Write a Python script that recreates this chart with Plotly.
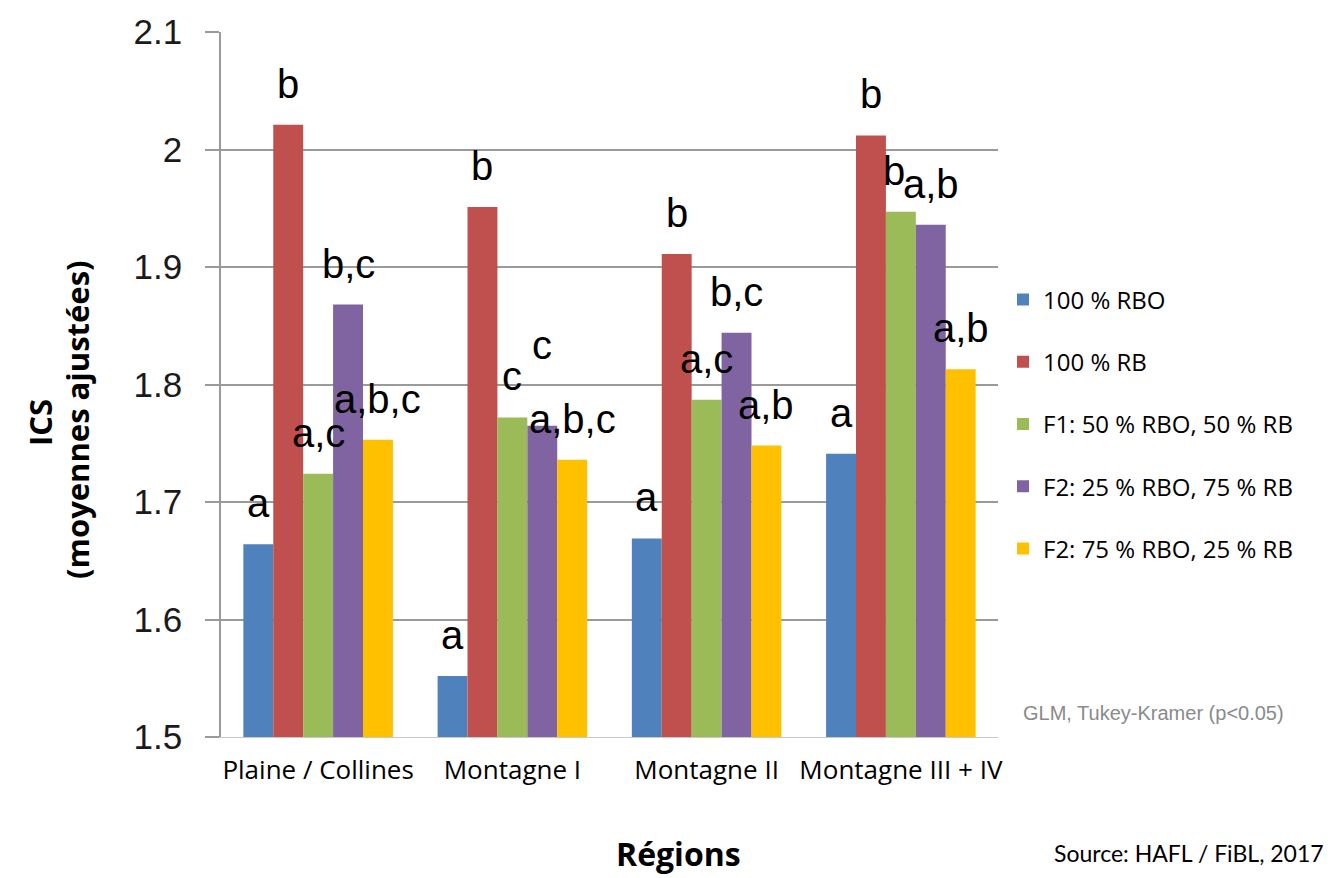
import plotly.graph_objects as go

# Adjusted ICS means per region and feeding regime
regions = ["Plaine / Collines", "Montagne I", "Montagne II", "Montagne III + IV"]
series_names = [
    "100 % RBO",
    "100 % RB",
    "F1: 50 % RBO, 50 % RB",
    "F2: 25 % RBO, 75 % RB",
    "F2: 75 % RBO, 25 % RB",
]
rbo_100 = [1.664, 1.552, 1.669, 1.741]
rb_100 = [2.021, 1.951, 1.911, 2.012]
f1_50_50 = [1.724, 1.772, 1.787, 1.947]
f2_25_75 = [1.868, 1.765, 1.844, 1.936]
f2_75_25 = [1.753, 1.736, 1.748, 1.813]
series_values = [rbo_100, rb_100, f1_50_50, f2_25_75, f2_75_25]

# Tukey-Kramer group letters, same order as the series
letters_rbo_100 = ["a", "a", "a", "a"]
letters_rb_100 = ["b", "b", "b", "b"]
letters_f1_50_50 = ["a,c", "c", "a,c", "b"]
letters_f2_25_75 = ["b,c", "c", "b,c", "a,b"]
letters_f2_75_25 = ["a,b,c", "a,b,c", "a,b", "a,b"]
series_letters = [letters_rbo_100, letters_rb_100, letters_f1_50_50,
                  letters_f2_25_75, letters_f2_75_25]

y_ticks = [1.5, 1.6, 1.7, 1.8, 1.9, 2.0, 2.1]
y_tick_text = ["1.5", "1.6", "1.7", "1.8", "1.9", "2", "2.1"]

colors = ["#4F81BD", "#C0504D", "#9BBB59", "#8064A2", "#FFC000"]

# layout geometry (pixels)
W, H = 1331, 878
ML, MR, MT, MB = 221, 333, 32, 141
plot_w = W - ML - MR
bargap = 0.23
bar_px = plot_w / len(regions) * (1 - bargap) / len(series_names)

fig = go.Figure()
for name, vals, col in zip(series_names, series_values, colors):
    fig.add_trace(go.Bar(
        x=regions, y=vals, name=name, marker=dict(color=col, line=dict(width=0)),
        legendgroup=name,
    ))

# letter annotations above each bar
arial = "Liberation Sans, Arial, sans-serif"
sans = "Open Sans, Lato, sans-serif"
extra_lift = {(3, 1): 40}   # (series, region) -> extra vertical offset
extra_x = {(2, 3): -7}
for si, (vals, lets) in enumerate(zip(series_values, series_letters)):
    for ri, (v, t) in enumerate(zip(vals, lets)):
        fig.add_annotation(
            x=regions[ri], y=v, xref="x", yref="y", text=t, showarrow=False,
            xanchor="center", yanchor="bottom",
            xshift=(si - 2) * bar_px + extra_x.get((si, ri), 0),
            yshift=17 + extra_lift.get((si, ri), 0),
            font=dict(family=arial, size=40, color="#000000"),
        )

def px_x(p):
    return (p - ML) / plot_w

def px_y(p):
    return (H - MB - p) / (H - MT - MB)

# y-axis title, two lines
title_font = dict(family=sans, size=31, color="#000000", weight="bold")
fig.add_annotation(
    x=px_x(40), y=px_y(423), xref="paper", yref="paper", showarrow=False,
    text="ICS", textangle=-90, font=title_font,
    xanchor="center", yanchor="middle",
)
fig.add_annotation(
    x=px_x(77), y=px_y(420), xref="paper", yref="paper", showarrow=False,
    text="(moyennes ajustées)", textangle=-90, font=title_font,
    xanchor="center", yanchor="middle",
)
fig.add_annotation(
    x=px_x(678), y=px_y(854), xref="paper", yref="paper", showarrow=False,
    text="<b>Régions</b>",
    font=dict(family=sans, size=32, color="#000000"),
    xanchor="center", yanchor="middle",
)
fig.add_annotation(
    x=px_x(1021), y=px_y(713), xref="paper", yref="paper", showarrow=False,
    text="GLM, Tukey-Kramer (p<0.05)",
    font=dict(family=arial, size=20, color="#8a8a8a"),
    xanchor="left", yanchor="middle",
)
fig.add_annotation(
    x=px_x(1052), y=px_y(853), xref="paper", yref="paper", showarrow=False,
    text="Source: HAFL / FiBL, 2017",
    font=dict(family="Lato, Open Sans, sans-serif", size=23, color="#000000"),
    xanchor="left", yanchor="middle",
)

fig.update_layout(
    width=W, height=H,
    margin=dict(l=ML, r=MR, t=MT, b=MB, pad=0),
    paper_bgcolor="white", plot_bgcolor="white",
    barmode="group", bargap=bargap, bargroupgap=0,
    showlegend=True,
    legend=dict(
        x=px_x(1003), y=px_y(424), xanchor="left", yanchor="middle",
        font=dict(family=sans, size=24, color="#000000"),
        tracegroupgap=28, itemclick=False, bgcolor="rgba(0,0,0,0)",
    ),
    xaxis=dict(
        showgrid=False, showline=True, linecolor="#c8c8c8", linewidth=1,
        ticks="", tickfont=dict(family=sans, size=26, color="#000000"),
        ticklabelstandoff=10,
    ),
    yaxis=dict(
        range=[1.5, 2.1], tickvals=y_ticks, ticktext=y_tick_text,
        showgrid=True, gridcolor="#9a9a9a", gridwidth=1.5,
        showline=True, linecolor="#9a9a9a", linewidth=1.5,
        ticks="outside", ticklen=14, tickcolor="#9a9a9a", tickwidth=1.5,
        tickfont=dict(family=arial, size=35, color="#1a1a1a"),
        ticklabelstandoff=16, zeroline=False,
    ),
)

fig.write_html("out.html")
